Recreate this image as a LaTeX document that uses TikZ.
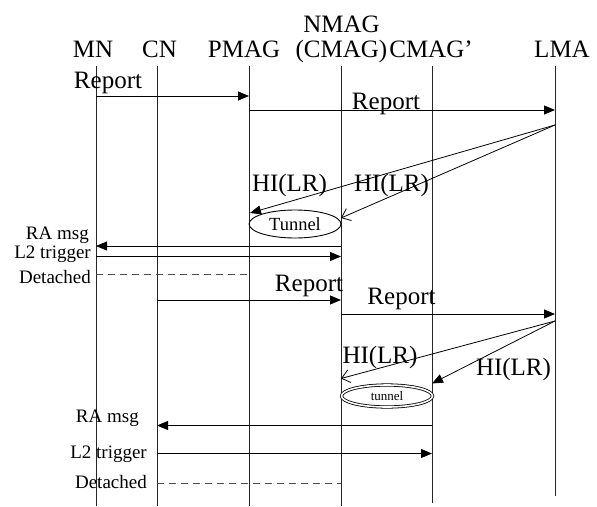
\documentclass[tikz,border=0pt]{standalone}
\usepackage{fontspec}
\setmainfont{Liberation Serif}
\usetikzlibrary{arrows.meta,shapes.geometric}
\begin{document}
\begin{tikzpicture}[x=1pt,y=-1pt,
  big/.style={font=\fontsize{25}{28}\selectfont, inner sep=0pt, anchor=base},
  small/.style={font=\fontsize{19}{21}\selectfont, inner sep=0pt, anchor=base east},
  life/.style={line width=0.8pt, draw=black!85},
  msg/.style={line width=0.8pt, -{Triangle[length=11pt,width=9pt]}},
  omsg/.style={line width=0.8pt, -{Straight Barb[length=8pt,width=13pt]}},
  plain/.style={line width=0.8pt},
  detach/.style={line width=0.8pt, draw=black!70, dash pattern=on 7pt off 5pt}]
\useasboundingbox (0,0) rectangle (597,506);
% headers
\node[big] (hMN) at (93,57) {MN};
\node[big] (hCN) at (159.5,57) {CN};
\node[big] (hPM) at (244,57) {PMAG};
\node[big] (hNM1) at (341.5,32) {NMAG};
\node[big] (hNM2) at (341.5,57) {(CMAG)};
\node[big] (hCM) at (431,57) {CMAG’};
\node[big] (hLMA) at (562,57) {LMA};
% lifelines
\coordinate (mnT) at (96,66);  \coordinate (mnB) at (96,506);
\coordinate (cnT) at (157,66); \coordinate (cnB) at (157,506);
\coordinate (pmT) at (249,66); \coordinate (pmB) at (249,506);
\coordinate (nmT) at (341,66); \coordinate (nmB) at (341,506);
\coordinate (cmT) at (432,66); \coordinate (cmB) at (432,503);
\coordinate (lmT) at (555,66); \coordinate (lmB) at (555,496);
\foreach \a/\b in {mnT/mnB,cnT/cnB,pmT/pmB,nmT/nmB,cmT/cmB,lmT/lmB}
  \draw[life] (\a) -- (\b);
% first phase
\coordinate (r1a) at (96,96);  \coordinate (r1b) at (249,96);
\draw[msg] (r1a) -- (r1b);
\node[big] (lr1) at (108,88) {Report};
\coordinate (r2a) at (249,110); \coordinate (r2b) at (555,110);
\draw[msg] (r2a) -- (r2b);
\node[big] (lr2) at (386,109) {Report};
\coordinate (hiS) at (555,125);
\coordinate (hi1) at (250,213);
\coordinate (hi2) at (341,218);
\draw[msg] (hiS) -- (hi1);
\draw[omsg] (hiS) -- (hi2);
\node[big] (lhi1) at (289.5,191) {HI(LR)};
\node[big] (lhi2) at (391.5,191) {HI(LR)};
\node[draw, ellipse, line width=0.9pt, minimum width=92pt, minimum height=28pt, inner sep=0pt,
  font=\fontsize{18.5}{20}\selectfont] (tun1) at (295,224) {Tunnel};
\coordinate (ra1a) at (341,246); \coordinate (ra1b) at (96,246);
\draw[msg] (ra1a) -- (ra1b);
\coordinate (l21a) at (96,256.5); \coordinate (l21b) at (341,256.5);
\draw[msg] (l21a) -- (l21b);
\coordinate (d1a) at (96,274); \coordinate (d1b) at (249,274);
\draw[detach] (d1a) -- (d1b);
\node[small] (lra1) at (89,239.5) {RA msg};
\node[small] (ll21) at (91,258) {L2 trigger};
\node[small] (ld1) at (91,283) {Detached};
% second phase
\coordinate (r3a) at (157,300); \coordinate (r3b) at (341,300);
\draw[msg] (r3a) -- (r3b);
\node[big] (lr3) at (309,291) {Report};
\coordinate (r4a) at (341,314); \coordinate (r4b) at (555,314);
\draw[msg] (r4a) -- (r4b);
\node[big] (lr4) at (401.5,304) {Report};
\coordinate (hiS2) at (555,321);
\coordinate (hi3) at (341,378.5);
\coordinate (hi4) at (432,383.5);
\draw[omsg] (hiS2) -- (hi3);
\draw[msg] (hiS2) -- (hi4);
\node[big] (lhi3) at (380,363) {HI(LR)};
\node[big] (lhi4) at (513.5,375) {HI(LR)};
\node[draw, ellipse, double, double distance=1.6pt, line width=0.8pt, minimum width=91pt, minimum height=22pt, inner sep=0pt,
  font=\fontsize{13}{14}\selectfont] (tun2) at (387,396) {tunnel};
\coordinate (ra2a) at (432,425.5); \coordinate (ra2b) at (157,425.5);
\draw[msg] (ra2a) -- (ra2b);
\coordinate (l22a) at (157,453.5); \coordinate (l22b) at (432,453.5);
\draw[msg] (l22a) -- (l22b);
\coordinate (d2a) at (157,483.5); \coordinate (d2b) at (341,483.5);
\draw[detach] (d2a) -- (d2b);
\node[small] (lra2) at (139,422) {RA msg};
\node[small] (ll22) at (147,458) {L2 trigger};
\node[small] (ld2) at (147,488.5) {Detached};
\end{tikzpicture}
\end{document}
